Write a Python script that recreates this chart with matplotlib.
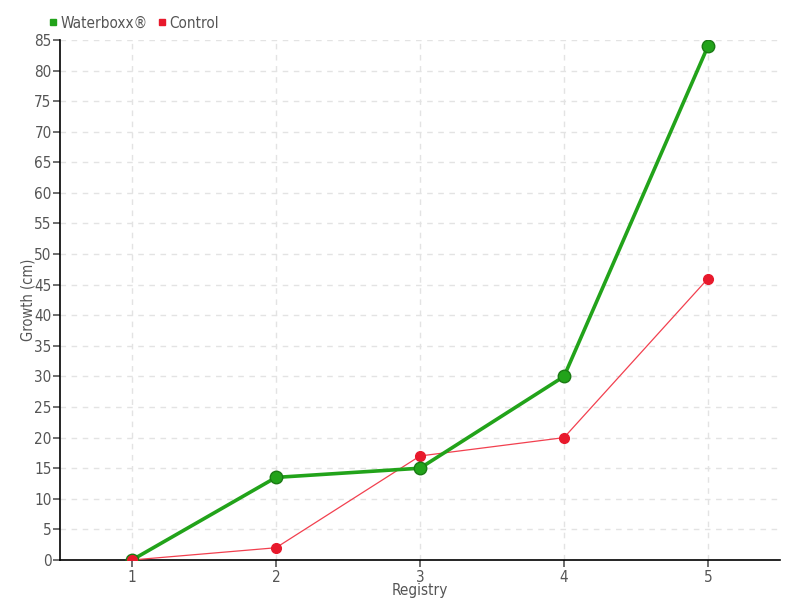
import matplotlib
matplotlib.use("Agg")
import matplotlib.pyplot as plt

registry = [1, 2, 3, 4, 5]
waterboxx = [0, 13.5, 15, 30, 84]
control = [0, 2, 17, 20, 46]
y_ticks = list(range(0, 90, 5))

plt.rcParams['font.family'] = ['DejaVu Sans']
plt.rcParams['font.stretch'] = 'condensed'

fig = plt.figure(figsize=(8, 6), dpi=100)
ax = fig.add_axes([0.075, 0.0667, 0.9, 0.8667])

ax.plot(registry, control, color='#f2404f', lw=0.9, marker='o', ms=7,
        mfc='#e8192c', mec='#e8192c', zorder=3, label='Control')
ax.plot(registry, waterboxx, color='#22a31a', lw=2.6, marker='o', ms=9,
        mfc='#22a31a', mec='#1a7a14', mew=1, zorder=4, label='Waterboxx®')
# control point 1 drawn on top like in the reference
ax.plot(registry[:1], control[:1], 'o', ms=7, color='#e8192c', zorder=5)

ax.set_xlim(0.5, 5.5)
ax.set_ylim(0, 85)
ax.set_xticks(registry)
ax.set_yticks(y_ticks)
ax.grid(True, color='#e3e3e3', ls=(0, (4, 4)), lw=1)
ax.set_axisbelow(True)
for s in ['top', 'right']:
    ax.spines[s].set_visible(False)
ax.spines['left'].set_linewidth(1.2)
ax.spines['bottom'].set_linewidth(1.2)
ax.tick_params(colors='#555555', labelsize=11, length=5, width=1.2)
ax.tick_params(axis='x', pad=2)
ax.tick_params(axis='y', pad=1)
ax.set_xlabel('Registry', color='#555555', fontsize=11, labelpad=-1)
ax.set_ylabel('Growth (cm)', color='#555555', fontsize=10.5, labelpad=-1)

leg = ax.legend(handles=[plt.Line2D([], [], ls='', marker='s', ms=5, color='#22a31a', label='Waterboxx®'),
                         plt.Line2D([], [], ls='', marker='s', ms=5, color='#e8192c', label='Control')],
                loc='lower left', bbox_to_anchor=(-0.033, 1.0), ncol=2, frameon=False,
                handletextpad=0.0, columnspacing=0.4, fontsize=11, borderaxespad=0.2,
                handlelength=1.0)
for t in leg.get_texts():
    t.set_color('#555555')

fig.savefig('out.png', dpi=100)
